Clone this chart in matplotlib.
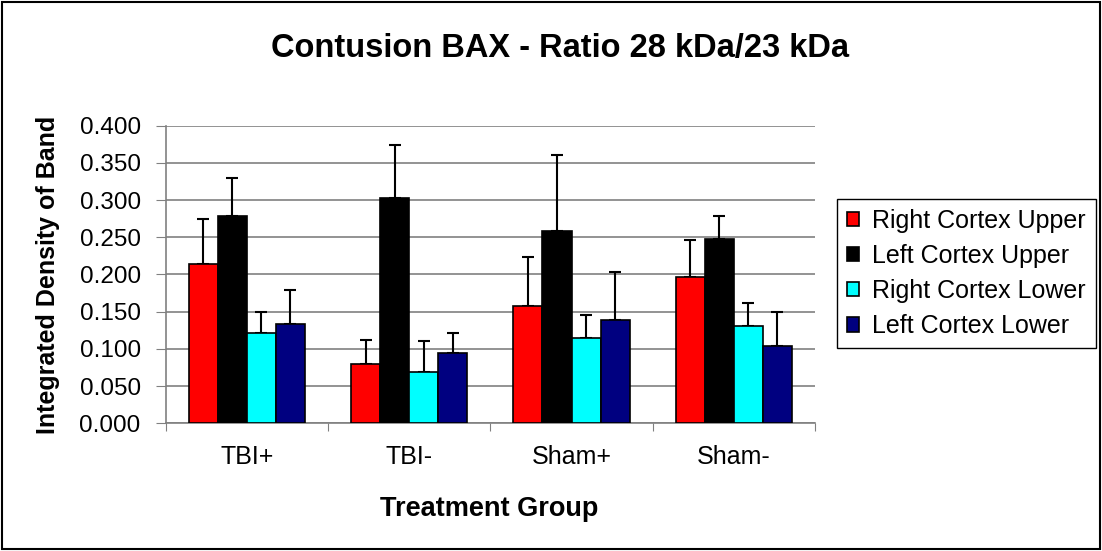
import numpy as np
import matplotlib
matplotlib.use("Agg")
import matplotlib.pyplot as plt
from matplotlib.patches import Rectangle

plt.rcParams['font.family'] = ['Liberation Sans', 'DejaVu Sans']

# Datos
groups = ['TBI+', 'TBI-', 'Sham+', 'Sham-']
series = ['Right Cortex Upper', 'Left Cortex Upper', 'Right Cortex Lower', 'Left Cortex Lower']
colors = ['#FF0000', '#000000', '#00FFFF', '#000080']

right_upper = [0.214, 0.080, 0.158, 0.196]
left_upper = [0.279, 0.303, 0.258, 0.248]
right_lower = [0.121, 0.069, 0.115, 0.131]
left_lower = [0.134, 0.094, 0.139, 0.104]

right_upper_err = [0.060, 0.032, 0.065, 0.051]
left_upper_err = [0.051, 0.071, 0.102, 0.031]
right_lower_err = [0.029, 0.041, 0.030, 0.030]
left_lower_err = [0.045, 0.027, 0.064, 0.046]

values = [right_upper, left_upper, right_lower, left_lower]
errors = [right_upper_err, left_upper_err, right_lower_err, left_lower_err]

fig = plt.figure(figsize=(11.02, 5.51), dpi=100)
ax = fig.add_axes([0.1504, 0.2318, 0.5892, 0.5401])

x = np.arange(len(groups))
width = 0.179
for i, (vals, errs) in enumerate(zip(values, errors)):
    pos = x + (i - 1.5) * width
    ax.bar(pos, vals, width, color=colors[i], edgecolor='black', linewidth=1.2,
           label=series[i], zorder=3)
    ax.errorbar(pos, vals, yerr=[np.zeros(len(errs)), errs], fmt='none',
                ecolor='black', elinewidth=1.5, capsize=4.5, capthick=1.5, zorder=2)

ax.set_ylim(0, 0.4)
ax.set_xlim(-0.5, len(groups) - 0.5)
ax.set_yticks(np.arange(0, 0.401, 0.05))
ax.set_yticklabels(['%.3f' % v for v in np.arange(0, 0.401, 0.05)], fontsize=17.5)
ax.yaxis.grid(True, color='#808080', linewidth=1.2, zorder=0)
ax.set_axisbelow(True)

# separadores entre grupos (major) y nombres centrados (minor)
ax.set_xticks(np.arange(-0.5, len(groups), 1.0))
ax.set_xticklabels([])
ax.set_xticks(x, minor=True)
ax.set_xticklabels(groups, minor=True, fontsize=18)
ax.tick_params(axis='x', which='minor', length=0, pad=15.5)
ax.tick_params(axis='x', which='major', length=6, color='#808080')
ax.tick_params(axis='y', length=7, color='#808080', pad=11)

for s in ['top', 'right']:
    ax.spines[s].set_visible(False)
for s in ['left', 'bottom']:
    ax.spines[s].set_color('#808080')
    ax.spines[s].set_linewidth(1.2)

ax.set_xlabel('Treatment Group', fontsize=19.5, fontweight='bold')
ax.xaxis.set_label_coords(0.498, -0.244)
ax.set_ylabel('Integrated Density of Band', fontsize=18, fontweight='bold')
ax.yaxis.set_label_coords(-0.163, 0.5)
fig.suptitle('Contusion BAX - Ratio 28 kDa/23 kDa', fontsize=23.5, fontweight='bold',
             x=0.508, y=0.94)

leg = fig.legend(loc='center left', bbox_to_anchor=(0.7595, 0.5036), fontsize=18,
                 frameon=True, fancybox=False, edgecolor='black', framealpha=1,
                 handlelength=0.5, handleheight=0.5, handletextpad=0.5,
                 labelspacing=0.45, borderpad=0.4, borderaxespad=0)
leg.get_frame().set_linewidth(1.0)

fig.patches.append(Rectangle((0.002, 0.003), 0.996, 0.994, transform=fig.transFigure,
                             fill=False, edgecolor='black', linewidth=1.5))

fig.savefig('out.png', dpi=100)
